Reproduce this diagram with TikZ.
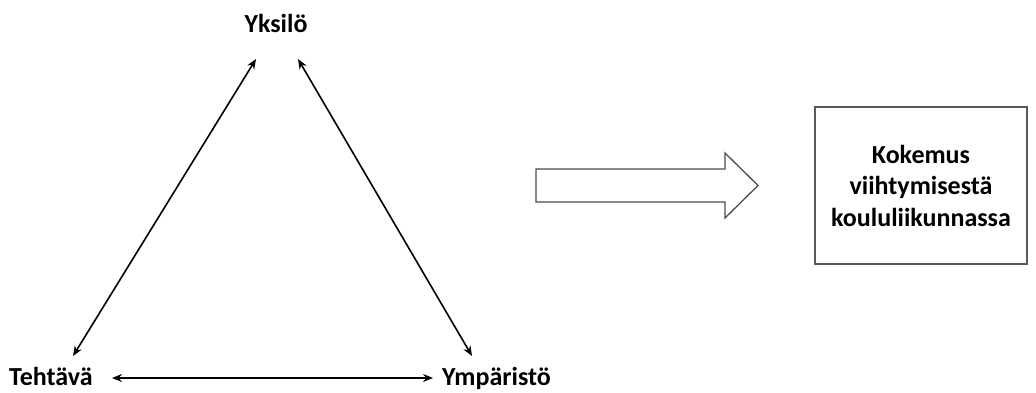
\documentclass[tikz,border=0pt]{standalone}
\usepackage{fontspec}
\setmainfont{Carlito}
\usetikzlibrary{arrows.meta}
\begin{document}
\begin{tikzpicture}[x=1pt,y=-1pt,
  lbl/.style={font=\bfseries\fontsize{26}{31}\selectfont, inner sep=0pt},
  dbl/.style={{Stealth[length=10pt,width=8pt]}-{Stealth[length=10pt,width=8pt]}, line width=1.6pt, black},
  outbox/.style={draw=black!65, line width=1.5pt, minimum width=212pt, minimum height=157pt, align=center, font=\bfseries\fontsize{26}{31.5}\selectfont}]
\useasboundingbox (0,0) rectangle (1036,392);
\node[lbl, anchor=base] (Y) at (276,32) {Yksilö};
\node[lbl, anchor=base west] (T) at (9,385) {Tehtävä};
\node[lbl, anchor=base west] (E) at (442,385) {Ympäristö};
\coordinate (yl) at (256,59);
\coordinate (yr) at (298,59);
\coordinate (tl) at (73,356);
\coordinate (er) at (472,356);
\coordinate (hl) at (112,378);
\coordinate (hr) at (433,378);
\draw[dbl] (tl) -- (yl);
\draw[dbl] (er) -- (yr);
\draw[dbl] (hl) -- (hr);
\node[outbox] (K) at (921,185.5) {Kokemus\\viihtymisestä\\koululiikunnassa};
\draw[draw=black!70, line width=1.3pt, line join=miter]
  (536,169) -- (725,169) -- (725,153) -- (758,185.5) -- (725,218) -- (725,202) -- (536,202) -- cycle;
\end{tikzpicture}
\end{document}
